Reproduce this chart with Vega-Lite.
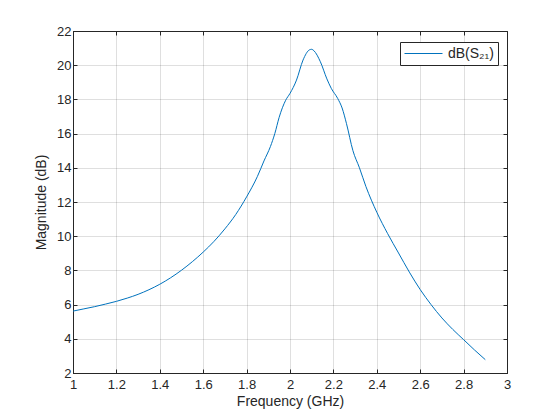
{
  "$schema": "https://vega.github.io/schema/vega-lite/v6.json",
  "width": 434,
  "height": 342,
  "autosize": {"type": "none"},
  "padding": {"left": 73, "top": 31, "right": 53, "bottom": 47},
  "background": "white",
  "data": {
    "values": [
      {"freq": 1.0, "mag": 5.62},
      {"freq": 1.05, "mag": 5.75},
      {"freq": 1.1, "mag": 5.88},
      {"freq": 1.15, "mag": 6.03},
      {"freq": 1.2, "mag": 6.19},
      {"freq": 1.25, "mag": 6.38},
      {"freq": 1.3, "mag": 6.6},
      {"freq": 1.35, "mag": 6.87},
      {"freq": 1.4, "mag": 7.19},
      {"freq": 1.45, "mag": 7.57},
      {"freq": 1.5, "mag": 8.01},
      {"freq": 1.55, "mag": 8.51},
      {"freq": 1.6, "mag": 9.07},
      {"freq": 1.65, "mag": 9.7},
      {"freq": 1.7, "mag": 10.43},
      {"freq": 1.75, "mag": 11.27},
      {"freq": 1.8, "mag": 12.3},
      {"freq": 1.85, "mag": 13.5},
      {"freq": 1.88, "mag": 14.4},
      {"freq": 1.91, "mag": 15.25},
      {"freq": 1.93, "mag": 16.0},
      {"freq": 1.95, "mag": 16.95},
      {"freq": 1.98, "mag": 17.95},
      {"freq": 2.0, "mag": 18.35},
      {"freq": 2.03, "mag": 19.13},
      {"freq": 2.06, "mag": 20.3},
      {"freq": 2.09, "mag": 20.9},
      {"freq": 2.1, "mag": 20.93},
      {"freq": 2.11, "mag": 20.85},
      {"freq": 2.14, "mag": 20.2},
      {"freq": 2.17, "mag": 19.2},
      {"freq": 2.19, "mag": 18.65},
      {"freq": 2.22, "mag": 18.05},
      {"freq": 2.24, "mag": 17.5},
      {"freq": 2.26, "mag": 16.6},
      {"freq": 2.29, "mag": 15.0},
      {"freq": 2.32, "mag": 14.0},
      {"freq": 2.35, "mag": 12.9},
      {"freq": 2.4, "mag": 11.4},
      {"freq": 2.45, "mag": 10.15},
      {"freq": 2.5, "mag": 9.02},
      {"freq": 2.55, "mag": 7.9},
      {"freq": 2.6, "mag": 6.88},
      {"freq": 2.65, "mag": 6.0},
      {"freq": 2.7, "mag": 5.22},
      {"freq": 2.75, "mag": 4.55},
      {"freq": 2.8, "mag": 3.95},
      {"freq": 2.85, "mag": 3.35},
      {"freq": 2.9, "mag": 2.78}
    ]
  },
  "config": {
    "font": "Liberation Sans",
    "view": {"stroke": "#262626", "strokeWidth": 1},
    "axis": {
      "domainColor": "#262626",
      "tickColor": "#262626",
      "labelColor": "#262626",
      "titleColor": "#262626",
      "gridColor": "#262626",
      "gridOpacity": 0.15,
      "labelFontSize": 13,
      "titleFontSize": 14,
      "titleFontWeight": "normal",
      "tickSize": -4,
      "labelFlush": false,
      "labelOverlap": false
    }
  },
  "layer": [
    {
      "mark": {"type": "line", "strokeWidth": 1, "interpolate": "monotone"},
      "encoding": {
        "x": {
          "field": "freq",
          "type": "quantitative",
          "scale": {"domain": [1, 3], "nice": false, "zero": false},
          "axis": {
            "title": "Frequency (GHz)",
            "values": [1, 1.2, 1.4, 1.6, 1.8, 2, 2.2, 2.4, 2.6, 2.8, 3],
            "format": "~g",
            "labelPadding": 9,
            "titlePadding": 3
          }
        },
        "y": {
          "field": "mag",
          "type": "quantitative",
          "scale": {"domain": [2, 22], "nice": false, "zero": false},
          "axis": {
            "title": "Magnitude (dB)",
            "values": [2, 4, 6, 8, 10, 12, 14, 16, 18, 20, 22],
            "format": "~g",
            "labelPadding": 6,
            "titlePadding": 8
          }
        },
        "color": {
          "datum": "dB(S₂₁)",
          "type": "nominal",
          "scale": {"range": ["#0072BD"]},
          "legend": {
            "title": null,
            "orient": "none",
            "legendX": 327,
            "legendY": 11,
            "strokeColor": "#262626",
            "fillColor": "white",
            "padding": 4,
            "symbolType": "stroke",
            "symbolSize": 1444,
            "symbolStrokeWidth": 1,
            "symbolStrokeColor": "#0072BD",
            "clipHeight": 15,
            "labelFontSize": 14,
            "labelColor": "#262626",
            "labelOffset": 5
          }
        }
      }
    },
    {
      "mark": {"type": "line", "opacity": 0},
      "encoding": {
        "x": {
          "field": "freq",
          "type": "quantitative",
          "axis": {
            "orient": "top",
            "title": null,
            "labels": false,
            "grid": false,
            "domain": false,
            "values": [1, 1.2, 1.4, 1.6, 1.8, 2, 2.2, 2.4, 2.6, 2.8, 3]
          }
        },
        "y": {
          "field": "mag",
          "type": "quantitative",
          "axis": {
            "orient": "right",
            "title": null,
            "labels": false,
            "grid": false,
            "domain": false,
            "values": [2, 4, 6, 8, 10, 12, 14, 16, 18, 20, 22]
          }
        }
      }
    }
  ],
  "resolve": {"axis": {"x": "independent", "y": "independent"}}
}
